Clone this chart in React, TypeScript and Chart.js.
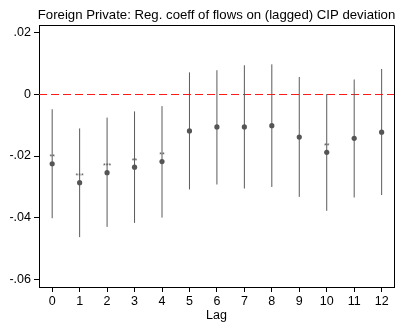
import { useEffect, useRef } from "react";
import { Chart, registerables } from "chart.js";

Chart.register(...registerables);

const chartTitle = "Foreign Private: Reg. coeff of flows on (lagged) CIP deviation";
const xTitle = "Lag";
const lags = [0, 1, 2, 3, 4, 5, 6, 7, 8, 9, 10, 11, 12];
const coef = [-0.0225, -0.0286, -0.0254, -0.0236, -0.0218, -0.0119, -0.0106, -0.0106, -0.0102, -0.0139, -0.0188, -0.0143, -0.0123];
const ciLow = [-0.0401, -0.0462, -0.0429, -0.0416, -0.0399, -0.0308, -0.0292, -0.0305, -0.0300, -0.0332, -0.0377, -0.0334, -0.0326];
const ciHigh = [-0.0049, -0.0111, -0.0076, -0.0056, -0.0039, 0.0070, 0.0077, 0.0093, 0.0096, 0.0055, 0.0000, 0.0047, 0.0081];
const stars = ["**", "***", "***", "**", "**", "", "", "", "", "", "**", "", ""];
const yTicks = [0.02, 0, -0.02, -0.04, -0.06];

const FONT = "Arial, 'Liberation Sans', Helvetica, sans-serif";

const fmtY = (v: number) => {
  if (Math.abs(v) < 1e-9) return "0";
  const s = v.toFixed(2);
  return s.replace("0.", ".");
};

const overlay = {
  id: "overlay",
  beforeDatasetsDraw(chart: any) {
    const { ctx, chartArea, scales } = chart;
    const x = scales.x;
    const y = scales.y;
    ctx.save();
    ctx.strokeStyle = "#ff1a1a";
    ctx.lineWidth = 1;
    ctx.setLineDash([8, 4]);
    const y0 = Math.round(y.getPixelForValue(0)) + 0.5;
    ctx.beginPath();
    ctx.moveTo(chartArea.left, y0);
    ctx.lineTo(chartArea.right, y0);
    ctx.stroke();
    ctx.setLineDash([]);
    ctx.strokeStyle = "#5a5a5a";
    ctx.lineWidth = 1;
    lags.forEach((l, i) => {
      const px = x.getPixelForValue(l);
      ctx.beginPath();
      ctx.moveTo(px, y.getPixelForValue(ciHigh[i]));
      ctx.lineTo(px, y.getPixelForValue(ciLow[i]));
      ctx.stroke();
    });
    ctx.restore();
  },
  afterDatasetsDraw(chart: any) {
    const { ctx, chartArea, scales } = chart;
    const x = scales.x;
    const y = scales.y;
    ctx.save();
    ctx.fillStyle = "#555";
    ctx.font = `7px ${FONT}`;
    ctx.textAlign = "center";
    ctx.textBaseline = "alphabetic";
    lags.forEach((l, i) => {
      if (!stars[i]) return;
      const px = x.getPixelForValue(l);
      const py = y.getPixelForValue(coef[i]) - 8.5;
      ctx.fillText(stars[i], px, py + 4);
    });
    ctx.strokeStyle = "#000";
    ctx.lineWidth = 1;
    ctx.beginPath();
    ctx.moveTo(Math.round(chartArea.left), Math.round(chartArea.top) + 0.5);
    ctx.lineTo(Math.round(chartArea.right) + 0.5, Math.round(chartArea.top) + 0.5);
    ctx.lineTo(Math.round(chartArea.right) + 0.5, Math.round(chartArea.bottom));
    ctx.stroke();
    ctx.fillStyle = "#000";
    ctx.font = `13.2px ${FONT}`;
    ctx.textAlign = "center";
    ctx.textBaseline = "middle";
    ctx.fillText(chartTitle, (chartArea.left + chartArea.right) / 2, 15);
    ctx.restore();
  },
};

export default function App() {
  const ref = useRef<HTMLCanvasElement>(null);
  useEffect(() => {
    document.body.style.margin = "0";
    const chart = new Chart(ref.current!, {
      type: "scatter",
      data: {
        datasets: [
          {
            data: lags.map((l, i) => ({ x: l, y: coef[i] })),
            backgroundColor: "#555",
            borderColor: "#555",
            pointRadius: 2.6,
            pointHoverRadius: 2.6,
            borderWidth: 0,
          },
        ],
      },
      options: {
        animation: false,
        responsive: false,
        devicePixelRatio: 1,
        layout: { padding: { top: 25, right: 3, left: 0, bottom: 0 } },
        plugins: { legend: { display: false }, tooltip: { enabled: false }, title: { display: false } },
        scales: {
          x: {
            type: "linear",
            min: -0.48,
            max: 12.45,
            afterBuildTicks: (s: any) => {
              s.ticks = lags.map((v) => ({ value: v }));
            },
            afterFit: (s: any) => {
              s.height = 36;
            },
            ticks: {
              callback: (v: any) => String(v),
              color: "#000",
              font: { family: FONT, size: 12.5 },
              padding: 2,
              maxRotation: 0,
              autoSkip: false,
            },
            grid: { drawOnChartArea: false, drawTicks: true, tickLength: 5, color: "#000" },
            border: { display: true, color: "#000", width: 1 },
            title: { display: true, text: xTitle, color: "#000", font: { family: FONT, size: 12.5 }, padding: { top: 0, bottom: 0 } },
          },
          y: {
            type: "linear",
            min: -0.0623,
            max: 0.0223,
            afterBuildTicks: (s: any) => {
              s.ticks = yTicks.map((v) => ({ value: v }));
            },
            afterFit: (s: any) => {
              s.width = 39;
            },
            ticks: {
              callback: (v: any) => fmtY(Number(v)),
              color: "#000",
              font: { family: FONT, size: 12.5 },
              padding: 3,
              autoSkip: false,
            },
            grid: { drawOnChartArea: false, drawTicks: true, tickLength: 5, color: "#000" },
            border: { display: true, color: "#000", width: 1 },
          },
        },
      },
      plugins: [overlay],
    } as any);
    return () => chart.destroy();
  }, []);
  return (
    <div style={{ width: 397, height: 323 }}>
      <canvas ref={ref} width={397} height={323} style={{ display: "block" }} />
    </div>
  );
}
